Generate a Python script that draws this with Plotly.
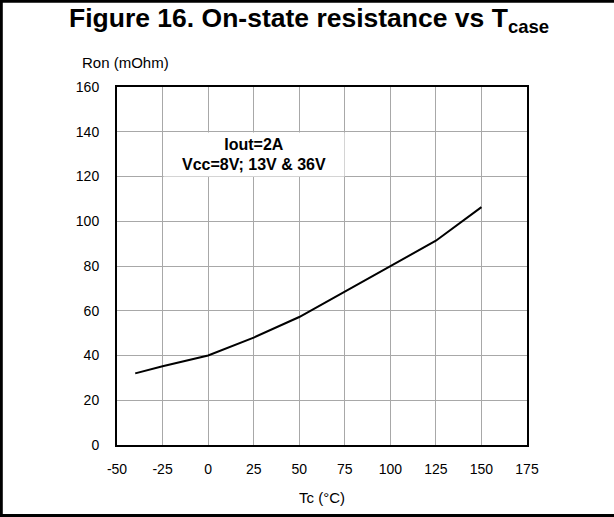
import plotly.graph_objects as go

# Data
tc = [-40, -25, 0, 25, 50, 75, 100, 125, 150]
ron = [32, 35.2, 40, 48, 57.2, 68.5, 80, 91.3, 106.3]

x_ticks = [-50, -25, 0, 25, 50, 75, 100, 125, 150, 175]
y_ticks = [0, 20, 40, 60, 80, 100, 120, 140, 160]

W, H = 614, 517
L, R, T, B = 117, 87, 87, 72
PW, PH = W - L - R, H - T - B


def xp(px):
    return (px - L) / PW


def yp(py):
    return (H - B - py) / PH


FONT = "Arial, Liberation Sans, Helvetica, sans-serif"

fig = go.Figure()
fig.add_trace(go.Scatter(x=tc, y=ron, mode="lines",
                         line=dict(color="black", width=2), showlegend=False))

axis_common = dict(showgrid=True, gridcolor="#a8a8a8", gridwidth=1,
                   showline=True, linecolor="black", linewidth=2, mirror=True,
                   zeroline=False, ticks="", tickfont=dict(size=14, color="black", family=FONT))

fig.update_xaxes(range=[-50, 175], tickvals=x_ticks, ticktext=[str(v) for v in x_ticks],
                 ticklabelstandoff=10,
                 title=dict(text="Tc (°C)", font=dict(size=15, color="black", family=FONT), standoff=17),
                 **axis_common)
fig.update_yaxes(range=[0, 160], tickvals=y_ticks, ticktext=[str(v) for v in y_ticks],
                 ticklabelstandoff=13, **axis_common)

annotations = [
    dict(text="<b>Figure 16. On-state resistance vs T<sub>case</sub></b>", xref="paper", yref="paper",
         x=xp(308.5), y=yp(20), xanchor="center", yanchor="middle", showarrow=False,
         font=dict(size=26.5, color="black", family=FONT)),
    dict(text="Ron (mOhm)", xref="paper", yref="paper", x=xp(80), y=yp(62),
         xanchor="left", yanchor="middle", showarrow=False,
         font=dict(size=15, color="black", family=FONT)),
    dict(text="<b>Iout=2A<br>Vcc=8V; 13V &amp; 36V</b>", x=25, y=130, xref="x", yref="y",
         xanchor="center", yanchor="middle", showarrow=False, width=180, height=43,
         bgcolor="white", borderpad=0, align="center", valign="middle",
         font=dict(size=16, color="black", family=FONT)),
]

shapes = [
    dict(type="line", xref="paper", yref="paper", x0=xp(0), x1=xp(W), y0=yp(1.3), y1=yp(1.3),
         line=dict(color="black", width=3)),
    dict(type="line", xref="paper", yref="paper", x0=xp(1.3), x1=xp(1.3), y0=yp(0), y1=yp(H),
         line=dict(color="black", width=3)),
    dict(type="line", xref="paper", yref="paper", x0=xp(0), x1=xp(W), y0=yp(515.5), y1=yp(515.5),
         line=dict(color="black", width=3)),
]

fig.update_layout(width=W, height=H, margin=dict(l=L, r=R, t=T, b=B),
                  paper_bgcolor="white", plot_bgcolor="white",
                  font=dict(family=FONT, color="black"),
                  annotations=annotations, shapes=shapes)

fig.write_html("out.html", config={"displayModeBar": False},
               post_script="document.body.style.margin='0';document.body.style.overflow='hidden';")
